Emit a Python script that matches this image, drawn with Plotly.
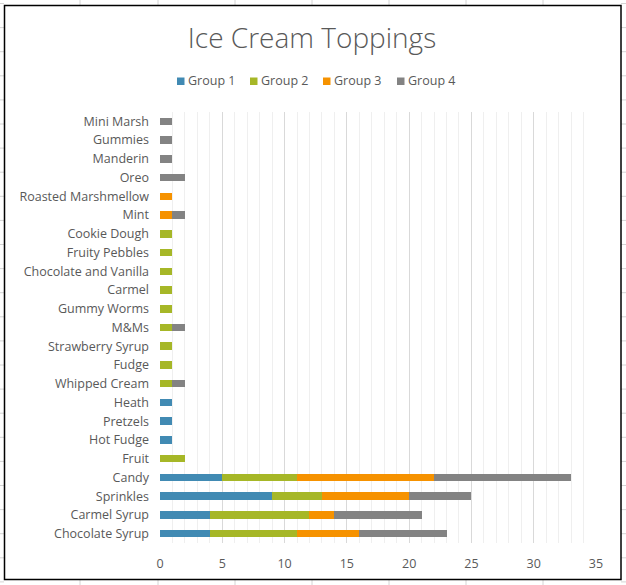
import plotly.graph_objects as go

# categories listed bottom -> top, as plotly draws them
toppings = [
    "Chocolate Syrup", "Carmel Syrup", "Sprinkles", "Candy", "Fruit",
    "Hot Fudge", "Pretzels", "Heath", "Whipped Cream", "Fudge",
    "Strawberry Syrup", "M&Ms", "Gummy Worms", "Carmel",
    "Chocolate and Vanilla", "Fruity Pebbles", "Cookie Dough", "Mint",
    "Roasted Marshmellow", "Oreo", "Manderin", "Gummies", "Mini Marsh",
]
group1 = [4, 4, 9, 5, 0, 1, 1, 1, 0, 0, 0, 0, 0, 0, 0, 0, 0, 0, 0, 0, 0, 0, 0]
group2 = [7, 8, 4, 6, 2, 0, 0, 0, 1, 1, 1, 1, 1, 1, 1, 1, 1, 0, 0, 0, 0, 0, 0]
group3 = [5, 2, 7, 11, 0, 0, 0, 0, 0, 0, 0, 0, 0, 0, 0, 0, 0, 1, 1, 0, 0, 0, 0]
group4 = [7, 7, 5, 11, 0, 0, 0, 0, 1, 0, 0, 1, 0, 0, 0, 0, 0, 1, 0, 2, 1, 1, 1]
x_ticks = [0, 5, 10, 15, 20, 25, 30, 35]

series = [
    ("Group 1", group1, "#418AB3"),
    ("Group 2", group2, "#A6B727"),
    ("Group 3", group3, "#F69200"),
    ("Group 4", group4, "#838383"),
]

W, H = 626, 585
L, R, T, B = 160, 30, 112, 42
TEXT = "#595959"
FONT = "Open Sans"

fig = go.Figure()
for name, vals, color in series:
    fig.add_trace(go.Bar(
        y=toppings, x=vals, name=name, orientation="h", showlegend=False,
        marker=dict(color=color, line=dict(width=0)),
    ))


# helpers: pixel -> paper coordinates (paper spans the plot area)
def px(x):
    return (x - L) / (W - L - R)


def py(y):
    return (H - B - y) / (H - T - B)


shapes = []
annotations = []
# spreadsheet cells peeking out around the chart object
for cx in [80, 158, 235, 312, 389, 466, 543]:
    for y0, y1 in [(0, 5), (580, 585)]:
        shapes.append(dict(type="line", xref="paper", yref="paper",
                           x0=px(cx), x1=px(cx), y0=py(y0), y1=py(y1),
                           line=dict(color="#d4d4d4", width=1)))
for k in range(25):
    ry = 3.5 + 24.1 * k
    for x0, x1 in [(0, 4), (621, 626)]:
        shapes.append(dict(type="line", xref="paper", yref="paper",
                           x0=px(x0), x1=px(x1), y0=py(ry), y1=py(ry),
                           line=dict(color="#d4d4d4", width=1)))
# chart object border
shapes.append(dict(type="rect", xref="paper", yref="paper",
                   x0=px(4.5), x1=px(621), y0=py(5.5), y1=py(579.5),
                   line=dict(color="#000000", width=1.5), layer="above"))

# Excel-style legend: small square hugging the label
legend_x = [177, 250, 323, 397]
for (name, _, color), lx in zip(series, legend_x):
    shapes.append(dict(type="rect", xref="paper", yref="paper",
                       x0=px(lx), x1=px(lx + 7.5), y0=py(85), y1=py(77.5),
                       fillcolor=color, line=dict(width=0)))
    annotations.append(dict(text=name, xref="paper", yref="paper",
                            x=px(lx + 9), y=py(81), xanchor="left",
                            yanchor="middle", showarrow=False,
                            font=dict(size=12.5, color=TEXT)))

fig.update_layout(
    width=W, height=H,
    barmode="stack", bargap=0.6,
    paper_bgcolor="white", plot_bgcolor="white",
    margin=dict(l=L, r=R, t=T, b=B, autoexpand=False),
    font=dict(family=FONT, color=TEXT, size=12),
    showlegend=False,
    title=dict(text="Ice Cream Toppings", x=312 / W, xanchor="center",
               y=1 - 38 / H, yanchor="middle",
               font=dict(family=FONT, size=28, color=TEXT, weight=300)),
    xaxis=dict(range=[0, 35], tickvals=x_ticks, showgrid=True,
               gridcolor="#d9d9d9", gridwidth=1, zeroline=False,
               showline=False, ticks="", ticklabelstandoff=11,
               tickfont=dict(size=12.5, color=TEXT),
               minor=dict(dtick=1, showgrid=True, gridcolor="#efefef",
                          gridwidth=1)),
    yaxis=dict(showgrid=False, zeroline=False, showline=False, ticks="",
               ticklabelstandoff=10, range=[-0.5, len(toppings) - 0.5],
               tickfont=dict(size=12.5, color=TEXT)),
    shapes=shapes,
    annotations=annotations,
)

fig.write_html("out.html", config={"displayModeBar": False},
               post_script="document.body.style.margin='0';")
